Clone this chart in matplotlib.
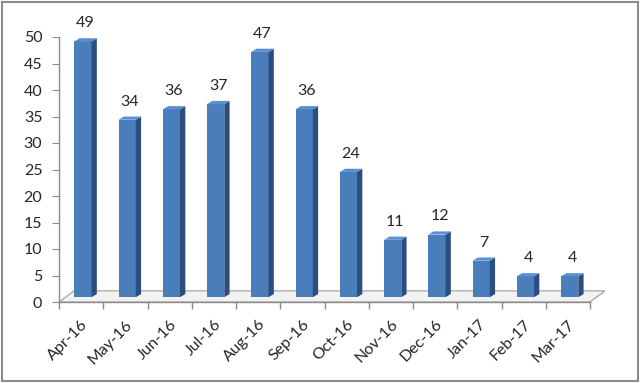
import matplotlib
matplotlib.use("Agg")
import matplotlib.pyplot as plt
from matplotlib.patches import Polygon, Rectangle
import numpy as np

categories = ["Apr-16", "May-16", "Jun-16", "Jul-16", "Aug-16", "Sep-16",
              "Oct-16", "Nov-16", "Dec-16", "Jan-17", "Feb-17", "Mar-17"]
values = [49, 34, 36, 37, 47, 36, 24, 11, 12, 7, 4, 4]
yticks = [0, 5, 10, 15, 20, 25, 30, 35, 40, 45, 50]

plt.rcParams['font.family'] = ['Lato', 'DejaVu Sans']
FS = 11.5

fig = plt.figure(figsize=(6.4, 3.83), dpi=100)
ax = fig.add_axes([59/640, 1-302/383, 531/640, 265/383])
ax.set_xlim(0, len(categories))
ax.set_ylim(0, 50)

# floor (3D base)
fdx, fdy = 0.34, 2.1
n = len(categories)
floor = Polygon([(0, 0), (n, 0), (n + fdx, fdy), (fdx, fdy)], closed=True,
                facecolor="#f2f2f2", edgecolor="#a6a6a6", lw=0.9,
                clip_on=False, zorder=1)
ax.add_patch(floor)

# bars with 3D side and top faces
w = 0.39
sdx, sdy = 0.12, 0.6
base = 0.9
front_c = "#4a7ebb"
side_c = "#2c4e7e"
top_c = "#5b8fd3"
for i, v in enumerate(values):
    x0 = i + 0.5 + 0.1 - w/2 - sdx/2
    h = v * 0.985
    ax.bar(x0, h, width=w, bottom=base, align='edge', color=front_c,
           edgecolor='none', zorder=3)
    top = base + h
    side = Polygon([(x0 + w, base), (x0 + w + sdx, base + sdy),
                    (x0 + w + sdx, top + sdy), (x0 + w, top)],
                   closed=True, facecolor=side_c, edgecolor='none', zorder=3)
    ax.add_patch(side)
    tp = Polygon([(x0, top), (x0 + w, top), (x0 + w + sdx, top + sdy),
                  (x0 + sdx, top + sdy)], closed=True,
                 facecolor=top_c, edgecolor='none', zorder=3)
    ax.add_patch(tp)
    ax.text(x0 + (w + sdx)/2, top + sdy + 1.5, str(v), ha='center',
            va='bottom', fontsize=FS, color="#262626", clip_on=False)

# axes styling
for s in ['top', 'right', 'bottom']:
    ax.spines[s].set_visible(False)
ax.spines['left'].set_color("#8c8c8c")
ax.spines['left'].set_linewidth(1.0)
ax.axhline(0, color="#8c8c8c", lw=1.0, zorder=2, clip_on=False)

ax.set_yticks(yticks)
ax.tick_params(axis='y', direction='out', length=5, color="#8c8c8c",
               labelsize=FS, labelcolor="#262626", pad=7)

ax.set_xticks(np.arange(n) + 0.5)
ax.set_xticklabels(categories, rotation=45, ha='right',
                   rotation_mode='anchor', fontsize=FS, color="#262626")
ax.tick_params(axis='x', which='major', length=0, pad=11)
ax.set_xticks(np.arange(n + 1), minor=True)
ax.tick_params(axis='x', which='minor', direction='out', length=5,
               color="#8c8c8c", width=1.0)

# chart border
fig.patches.append(Rectangle((2/640, 2/383), 636/640, 379/383,
                             transform=fig.transFigure, fill=False,
                             edgecolor="#8c8c8c", lw=1.5))

fig.savefig("out.png", dpi=100)
